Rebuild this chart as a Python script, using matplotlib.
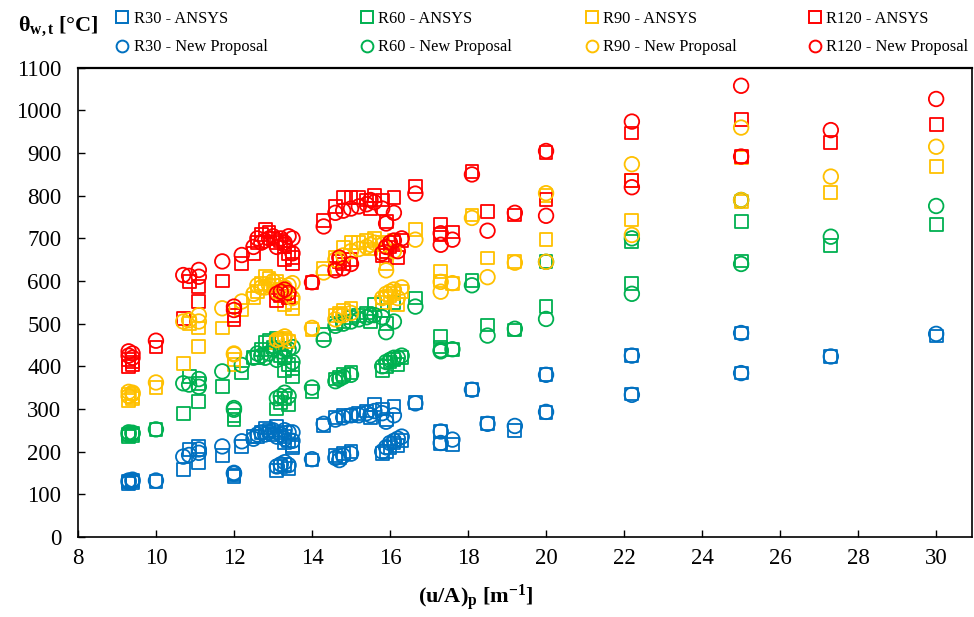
import matplotlib
matplotlib.use("Agg")
from matplotlib import pyplot as plt
from matplotlib.lines import Line2D

# one row per case: section factor and temperatures for the four fire classes
x = [9.3, 9.3, 9.4, 9.4, 10.0, 10.7, 10.85, 11.1, 11.1, 11.7, 12.0, 12.0, 12.2, 12.5,
     12.6, 12.7, 12.8, 12.9, 13.0, 13.1, 13.2, 13.3, 13.4, 13.5, 13.3, 13.5,
     13.1, 13.2, 13.3, 13.4, 14.0, 14.3,
     14.6, 14.8, 15.0, 15.2, 15.4, 15.6, 15.8, 16.1, 15.5,
     14.6, 14.8, 15.0, 14.7, 15.8, 15.9, 16.0, 16.1, 16.2, 16.3, 15.9,
     16.65, 17.3, 17.3, 17.6, 18.1, 18.5, 19.2, 20.0, 20.0,
     22.2, 22.2, 25.0, 25.0, 27.3, 30.0]

r30_ansys = [125, 130, 128, 132, 130, 158, 205, 175, 212, 190, 145, 142, 212, 235,
             235, 245, 255, 250, 240, 260, 245, 235, 225, 215, 220, 210,
             155, 165, 170, 160, 180, 262,
             280, 285, 285, 290, 295, 310, 300, 305, 280,
             190, 195, 200, 185, 195, 200, 210, 220, 215, 225, 275,
             315, 247, 218, 216, 345, 265, 250, 380, 292,
             425, 335, 478, 384, 423, 471]
r30_prop = [128, 132, 130, 134, 132, 188, 192, 197, 205, 212, 150, 148, 224, 230,
            240, 245, 240, 245, 250, 235, 240, 250, 245, 245, 230, 225,
            165, 170, 175, 168, 182, 265,
            275, 280, 285, 285, 290, 295, 290, 285, 285,
            185, 190, 195, 180, 200, 210, 220, 225, 230, 235, 270,
            313, 247, 220, 228, 345, 265, 260, 380, 293,
            425, 333, 478, 384, 423, 476]

r60_ansys = [235, 240, 238, 242, 252, 290, 376, 318, 360, 352, 275, 285, 384, 420,
             420, 440, 455, 460, 445, 465, 425, 420, 405, 395, 390, 375,
             300, 315, 325, 310, 340, 475,
             500, 505, 515, 520, 525, 545, 530, 550, 505,
             370, 380, 385, 375, 390, 400, 410, 415, 405, 420, 500,
             560, 470, 445, 440, 602, 497, 485, 645, 540,
             692, 595, 740, 647, 683, 732]
r60_prop = [240, 245, 242, 244, 252, 360, 357, 370, 352, 388, 298, 302, 403, 420,
            430, 425, 420, 430, 440, 415, 435, 440, 440, 445, 420, 410,
            325, 330, 338, 330, 350, 462,
            495, 500, 505, 510, 515, 520, 515, 505, 520,
            365, 375, 380, 370, 400, 410, 415, 420, 420, 425, 480,
            540, 438, 435, 440, 590, 472, 488, 645, 511,
            700, 570, 790, 640, 704, 776]

r90_ansys = [320, 335, 325, 330, 350, 407, 500, 446, 490, 490, 405, 415, 532, 560,
             575, 595, 610, 605, 590, 600, 580, 570, 560, 550, 545, 535,
             455, 460, 465, 458, 487, 630,
             655, 680, 690, 690, 695, 700, 690, 695, 675,
             520, 530, 535, 525, 550, 560, 565, 570, 545, 575, 640,
             720, 622, 600, 595, 755, 654, 645, 800, 697,
             835, 743, 890, 786, 808, 868]
r90_prop = [330, 340, 338, 335, 362, 505, 508, 520, 505, 536, 428, 430, 552, 570,
            590, 585, 585, 590, 600, 575, 590, 585, 590, 595, 575, 560,
            462, 465, 470, 460, 490, 620,
            650, 660, 670, 675, 680, 690, 685, 670, 685,
            510, 520, 525, 520, 560, 570, 575, 580, 560, 585, 625,
            697, 598, 575, 595, 748, 609, 643, 806, 645,
            874, 708, 960, 790, 845, 915]

r120_ansys = [400, 415, 405, 410, 445, 512, 598, 552, 587, 600, 510, 520, 642, 665,
              690, 710, 720, 715, 700, 690, 695, 680, 665, 655, 650, 640,
              555, 565, 570, 560, 597, 742,
              775, 795, 795, 795, 790, 800, 790, 795, 770,
              630, 640, 650, 645, 660, 670, 680, 690, 655, 695, 740,
              822, 732, 710, 715, 857, 763, 755, 902, 792,
              947, 835, 978, 892, 925, 968]
r120_prop = [425, 435, 430, 420, 460, 614, 612, 626, 610, 646, 532, 540, 661, 680,
             700, 690, 695, 700, 705, 680, 700, 690, 705, 700, 685, 665,
             570, 575, 580, 572, 597, 728,
             760, 765, 770, 775, 780, 785, 770, 760, 790,
             625, 630, 640, 655, 665, 680, 690, 695, 670, 700, 735,
             805, 712, 685, 697, 850, 718, 760, 905, 753,
             974, 820, 1058, 892, 954, 1027]

colors = ["#0070C0", "#00B050", "#FFC000", "#FF0000"]
names = ["R30", "R60", "R90", "R120"]
ansys = [r30_ansys, r60_ansys, r90_ansys, r120_ansys]
prop = [r30_prop, r60_prop, r90_prop, r120_prop]

plt.rcParams["font.family"] = ["Liberation Serif", "DejaVu Serif"]
plt.rcParams["mathtext.fontset"] = "custom"
plt.rcParams["mathtext.rm"] = "Liberation Serif"
plt.rcParams["mathtext.bf"] = "Liberation Serif:bold"
plt.rcParams["mathtext.it"] = "Liberation Serif:italic"

fig = plt.figure(figsize=(9.74, 6.17), dpi=100)
ax = fig.add_axes([0.080, 0.130, 0.918, 0.760])

for vals, c in zip(ansys, colors):
    ax.scatter(x, vals, marker="s", s=85, facecolors="none", edgecolors=c, linewidths=1.3)
for vals, c in zip(prop, colors):
    ax.scatter(x, vals, marker="o", s=110, facecolors="none", edgecolors=c, linewidths=1.3)

ax.set_xlim(8, 30.92)
ax.set_ylim(0, 1100)
ax.set_xticks(range(8, 31, 2))
ax.set_yticks(range(0, 1101, 100))
ax.tick_params(direction="in", labelsize=16.5, length=5, width=1)
ax.tick_params(axis="y", pad=12)
ax.tick_params(axis="x", pad=8)
for sp in ax.spines.values():
    sp.set_linewidth(1.2)
ax.spines["top"].set_linewidth(1.6)

# legend: one column per fire class
col_x = [0.119, 0.370, 0.601, 0.830]
for i in range(4):
    h = [Line2D([], [], ls="none", marker="s", ms=8, mfc="none", mec=colors[i], mew=1.4),
         Line2D([], [], ls="none", marker="o", ms=8.5, mfc="none", mec=colors[i], mew=1.4)]
    lab = [f"{names[i]} - ANSYS", f"{names[i]} - New Proposal"]
    fig.legend(h, lab, loc="upper left", bbox_to_anchor=(col_x[i], 0.982), frameon=False,
               fontsize=11.8, handlelength=0.8, handletextpad=0.3, labelspacing=0.75,
               borderpad=0, borderaxespad=0)

fig.text(0.018, 0.958, r"$\mathbf{θ_{w,t}}$ $\mathbf{[°C]}$", fontsize=16, va="center")
fig.text(0.488, 0.032, r"$\mathbf{(u/A)_p\ [m^{-1}]}$", fontsize=16, ha="center", va="center")

fig.savefig("out.png", dpi=100)
